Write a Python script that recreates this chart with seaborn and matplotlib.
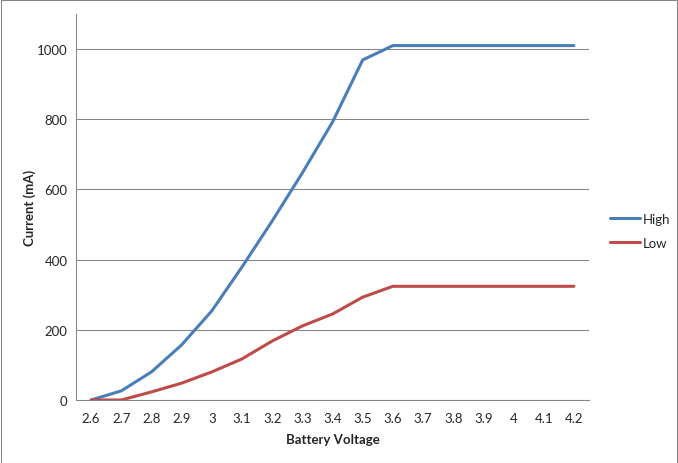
import matplotlib
matplotlib.use("Agg")
import matplotlib.pyplot as plt
import numpy as np
import pandas as pd
import seaborn as sns
from matplotlib.patches import Rectangle

voltage = ["2.6", "2.7", "2.8", "2.9", "3", "3.1", "3.2", "3.3", "3.4",
           "3.5", "3.6", "3.7", "3.8", "3.9", "4", "4.1", "4.2"]
high = [0, 26, 80, 157, 254, 379, 510, 647, 792, 969, 1010,
        1010, 1010, 1010, 1010, 1010, 1010]
low = [0, 0, 23, 48, 80, 117, 168, 211, 245, 293, 324,
       324, 324, 324, 324, 324, 324]

pos = np.arange(len(voltage))
df = pd.DataFrame({
    "pos": np.concatenate([pos, pos]),
    "Current": high + low,
    "Series": ["High"] * len(voltage) + ["Low"] * len(voltage),
})

sns.set_style("white")
plt.rcParams["font.family"] = ["Lato", "DejaVu Sans"]

fig = plt.figure(figsize=(6.78, 4.64), dpi=100)
ax = fig.add_axes([76 / 678, 1 - 401 / 464, (589 - 76) / 678, (401 - 15) / 464])

sns.lineplot(data=df, x="pos", y="Current", hue="Series",
             palette=["#4a7ebb", "#be4b48"], linewidth=2.2, ax=ax,
             legend=True)

grid_c = "#868686"
ax.set_xlim(-0.5, len(voltage) - 0.5)
ax.set_ylim(0, 1100)
ax.set_yticks(np.arange(0, 1001, 200))
ax.set_xticks(pos)
ax.set_xticklabels(voltage)
ax.yaxis.grid(True, color=grid_c, linewidth=0.75)
ax.xaxis.grid(False)
for s in ["top", "right"]:
    ax.spines[s].set_visible(False)
for s in ["left", "bottom"]:
    ax.spines[s].set_color(grid_c)
    ax.spines[s].set_linewidth(0.75)
ax.tick_params(axis="y", length=3, color=grid_c, width=0.75, pad=3, labelsize=9.5)
ax.tick_params(axis="x", length=0, pad=9, labelsize=9.5)
ax.set_xlabel("Battery Voltage", fontweight="bold", fontsize=9.5, labelpad=6)
ax.set_ylabel("Current (mA)", fontweight="bold", fontsize=9.5, labelpad=1)

handles, labels = ax.get_legend_handles_labels()
ax.get_legend().remove()
fig.legend(handles, labels, loc="center left", bbox_to_anchor=(598 / 678, 1 - 232 / 464),
           frameon=False, fontsize=9.5, handlelength=2.3, handletextpad=0.2,
           labelspacing=0.9)

fig.patches.append(Rectangle((0.5 / 678, 0.5 / 464), 1 - 1.5 / 678, 1 - 1.5 / 464,
                             transform=fig.transFigure, fill=False,
                             edgecolor=grid_c, linewidth=0.75))

fig.savefig("out.png", dpi=100)
